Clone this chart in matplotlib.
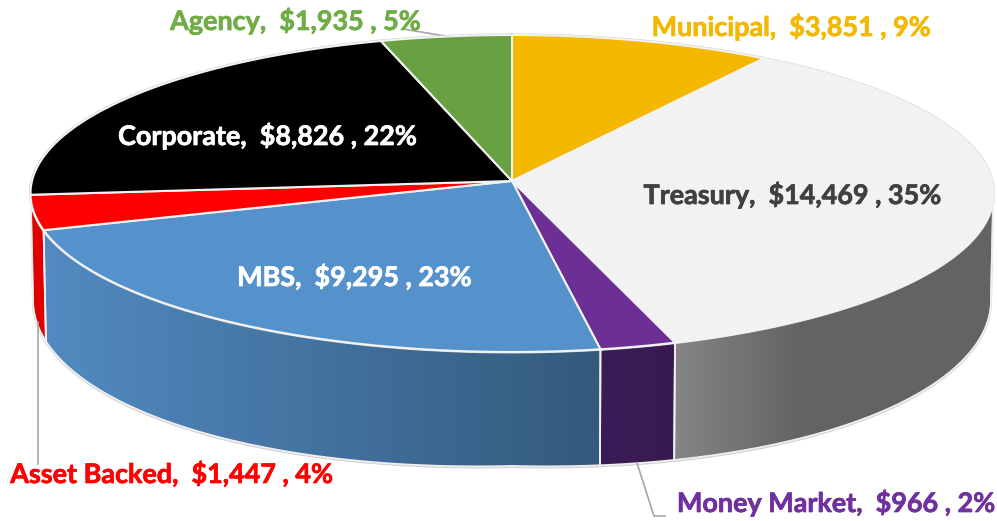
import numpy as np
import matplotlib
matplotlib.use("Agg")
import matplotlib.pyplot as plt
import matplotlib.patheffects as pe
from matplotlib.patches import Polygon
from matplotlib.colors import LinearSegmentedColormap

# ---- data (clockwise from 12 o'clock) ----
categories = ["Municipal", "Treasury", "Money Market", "MBS", "Asset Backed", "Corporate", "Agency"]
values = [3851, 14469, 966, 9295, 1447, 8826, 1935]
percents = [9, 35, 2, 23, 4, 22, 5]

# ---- styles ----
top_colors = ["#F4B800", "#F2F2F2", "#6B2F96", "#5592CC", "#FF0000", "#000000", "#69A142"]
side_ramps = {
    "Treasury": ("#858585", "#636363", 675, 800),
    "Money Market": ("#3C1C58", "#381A50", 600, 675),
    "MBS": ("#528AC1", "#335A7C", 47, 600),
    "Asset Backed": ("#E00000", "#E00000", 30, 50),
}
label_style = {
    "Municipal": (790.5, 27, "#F4B800"),
    "Treasury": (792, 195, "#404040"),
    "Money Market": (835.5, 503, "#7030A0"),
    "MBS": (354, 277, "#FFFFFF"),
    "Asset Backed": (171, 474, "#FF0000"),
    "Corporate": (267, 136, "#FFFFFF"),
    "Agency": (295, 21, "#70AD47"),
}
leaders = [
    ([38, 38], [322, 464]),
    ([637, 654, 665], [463, 516, 516]),
    ([403, 445], [29, 36]),
]

# ---- projection ----
CX, CY = 512.0, 181.0
RX, RY = 480.0, 157.5
K = 0.0788
DEPTH = 105.0
TAPER = 0.995


def project(theta, depth=0.0):
    """theta: radians clockwise from 12 o'clock. Perspective-tilted disc."""
    u, v = np.sin(theta), -np.cos(theta)
    s = 1.0 / (1.0 - K * v)
    rx = RX * (TAPER if depth else 1.0)
    # the lower rim sags slightly between the side tangent and the front
    bulge = 6.0 * np.abs(np.sin(2 * theta)) if depth else 0.0
    return CX + rx * u * s, CY + (RY * v + depth + bulge) * s


fig = plt.figure(figsize=(9.97, 5.21), dpi=100)
ax = fig.add_axes([0, 0, 1, 1])
ax.set_xlim(0, 997)
ax.set_ylim(521, 0)
ax.axis("off")

total = sum(values)
edges = 2 * np.pi * np.concatenate([[0], np.cumsum(values)]) / total
VIS_LO = np.pi / 2 + 0.06
VIS_HI = 2 * np.pi - VIS_LO

# sides
for name, a0, a1 in zip(categories, edges[:-1], edges[1:]):
    if name not in side_ramps:
        continue
    lo, hi = max(a0, VIS_LO), min(a1, VIS_HI)
    if hi <= lo:
        continue
    t = np.linspace(lo, hi, 160)
    xt, yt = project(t)
    xb, yb = project(t[::-1], DEPTH)
    pts = np.column_stack([np.r_[xt, xb], np.r_[yt, yb]])
    c0, c1, x0, x1 = side_ramps[name]
    poly = Polygon(pts, closed=True, facecolor="none", edgecolor="none")
    ax.add_patch(poly)
    cmap = LinearSegmentedColormap.from_list(name, [c0, c1])
    grad = np.linspace(0, 1, 256).reshape(1, -1)
    im = ax.imshow(grad, cmap=cmap, extent=[x0, x1, 521, 0], aspect="auto", zorder=1)
    left = ax.imshow(np.array([[0.0, 0.0]]), cmap=cmap, extent=[pts[:, 0].min() - 2, x0, 521, 0],
                     aspect="auto", zorder=1, vmin=0, vmax=1)
    right = ax.imshow(np.array([[1.0, 1.0]]), cmap=cmap, extent=[x1, pts[:, 0].max() + 2, 521, 0],
                      aspect="auto", zorder=1, vmin=0, vmax=1)
    for artist in (im, left, right):
        artist.set_clip_path(poly)
    ax.add_patch(Polygon(pts, closed=True, facecolor="none", edgecolor="#F0F0F0", lw=1.3, zorder=2))
ax.set_xlim(0, 997)
ax.set_ylim(521, 0)

# outer silhouette
t = np.linspace(VIS_LO, VIS_HI, 300)
xb, yb = project(t, DEPTH)
xt0, yt0 = project(t[[0, -1]])
ax.plot(np.r_[xt0[0], xb, xt0[1]], np.r_[yt0[0], yb + 1, yt0[1]], color="#CFCFCF", lw=1.4, zorder=1.5)
t_all = np.linspace(0, 2 * np.pi, 600)
xa, ya = project(t_all)
ax.plot(xa, ya, color="#CFCFCF", lw=2.2, zorder=1.5)

# top faces
for name, a0, a1, col in zip(categories, edges[:-1], edges[1:], top_colors):
    t = np.linspace(a0, a1, 200)
    x, y = project(t)
    pts = np.column_stack([np.r_[CX, x], np.r_[CY, y]])
    ax.add_patch(Polygon(pts, closed=True, facecolor=col, edgecolor="#F2F2F2", lw=1.5, zorder=3, joinstyle="round"))

# leaders
for lx, ly in leaders:
    ax.plot(lx, ly, color="#A6A6A6", lw=1.2, zorder=2.5)

# labels
for name, v, p in zip(categories, values, percents):
    x, y, col = label_style[name]
    ax.text(x, y, f"{name},  ${v:,} , {p}%", ha="center", va="center", color=col,
            fontsize=19.4, fontweight="bold", family="Lato", zorder=5,
            path_effects=[pe.withStroke(linewidth=0.5, foreground=col)])

fig.savefig("out.png", dpi=100)
